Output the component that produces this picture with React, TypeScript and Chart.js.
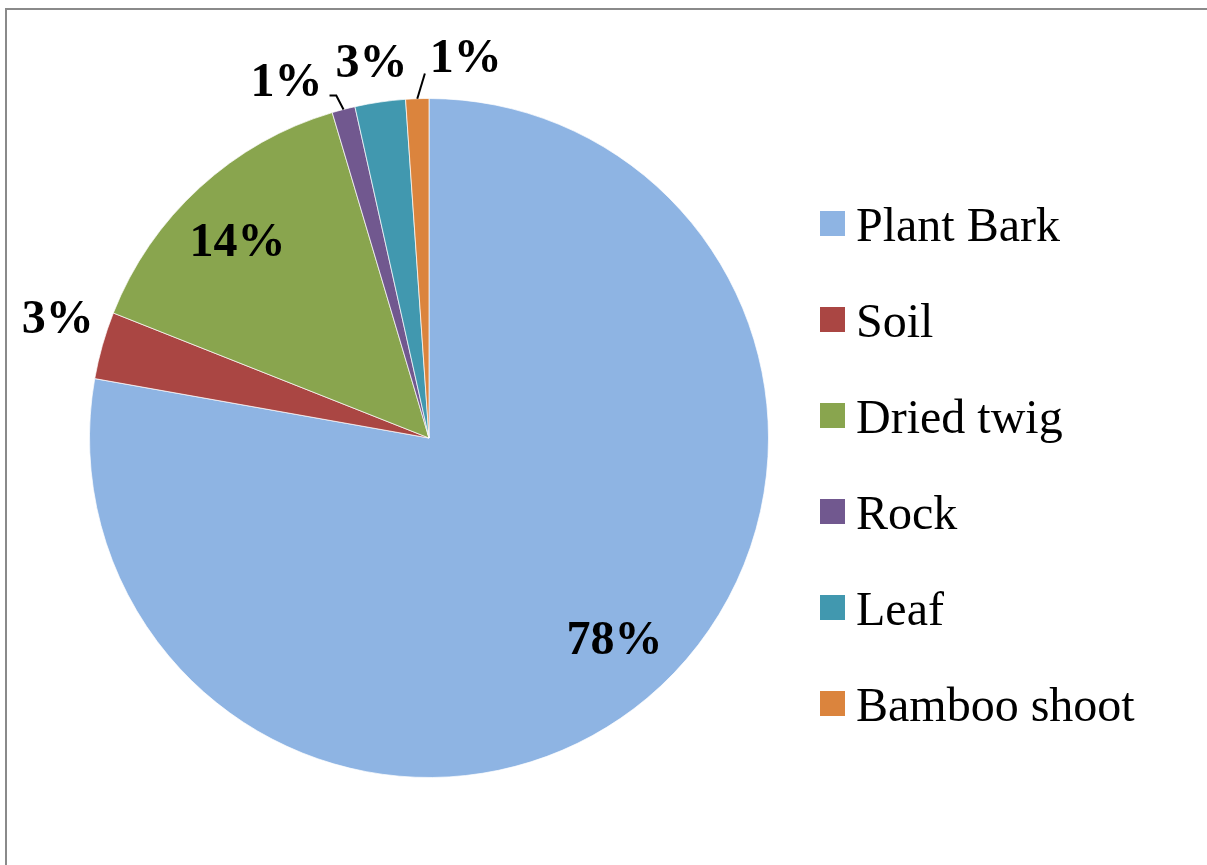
import React, { useEffect, useRef } from "react";
import { Chart, registerables } from "chart.js";

Chart.register(...registerables);

const categories = ["Plant Bark", "Soil", "Dried twig", "Rock", "Leaf", "Bamboo shoot"];
const shares = [77.8, 3.2, 14.4, 1.1, 2.4, 1.1];
const shownLabels = ["78%", "3%", "14%", "1%", "3%", "1%"];
const colors = ["#8EB4E3", "#AA4643", "#89A54E", "#71588F", "#4198AF", "#DB843D"];

// label placement relative to each slice's mid angle (deg shift, radius factor)
const labelPlacement = [
  { shift: -2.9, r: 0.803 },
  { shift: 2.2, r: 1.15 },
  { shift: -1.6, r: 0.811 },
  { shift: -7.1, r: 1.136 },
  { shift: -0.4, r: 1.122 },
  { shift: 7.5, r: 1.129 },
];

const labelFont = 'bold 48px "Liberation Serif", "Times New Roman", serif';
const legendFont = '48px "Liberation Serif", "Times New Roman", serif';

const framePlugin = {
  id: "frame",
  beforeDraw(chart: any) {
    const ctx = chart.ctx;
    ctx.save();
    ctx.fillStyle = "#ffffff";
    ctx.fillRect(0, 0, chart.width, chart.height);
    ctx.strokeStyle = "#8a8a8a";
    ctx.lineWidth = 2;
    ctx.strokeRect(6, 9, chart.width + 100, chart.height + 100);
    ctx.restore();
  },
};

const labelPlugin = {
  id: "sliceLabels",
  afterDatasetsDraw(chart: any) {
    const ctx = chart.ctx;
    const meta = chart.getDatasetMeta(0);
    ctx.save();
    ctx.font = labelFont;
    ctx.fillStyle = "#000";
    ctx.textAlign = "center";
    ctx.textBaseline = "alphabetic";
    meta.data.forEach((arc: any, i: number) => {
      const { x, y, startAngle, endAngle, outerRadius } = arc.getProps(
        ["x", "y", "startAngle", "endAngle", "outerRadius"],
        true
      );
      const mid = (startAngle + endAngle) / 2;
      const p = labelPlacement[i];
      const a = mid + (p.shift * Math.PI) / 180;
      const cx = x + Math.cos(a) * outerRadius * p.r;
      const cy = y + Math.sin(a) * outerRadius * p.r;
      const text = shownLabels[i];
      const base = cy + 16;
      ctx.fillText(text, cx, base);
      const w = ctx.measureText(text).width;
      // leader lines for the two thin slices
      if (i === 3) {
        ctx.beginPath();
        ctx.strokeStyle = "#000";
        ctx.lineWidth = 2;
        const ex = x + Math.cos(mid) * outerRadius;
        const ey = y + Math.sin(mid) * outerRadius;
        const kx = x + Math.cos(mid - 0.01) * outerRadius * 1.045;
        const ky = y + Math.sin(mid - 0.01) * outerRadius * 1.045;
        ctx.moveTo(ex, ey);
        ctx.lineTo(kx, ky);
        ctx.lineTo(cx + w / 2 + 7, ky);
        ctx.stroke();
      }
      if (i === 5) {
        ctx.beginPath();
        ctx.strokeStyle = "#000";
        ctx.lineWidth = 2;
        const ex = x + Math.cos(mid) * outerRadius;
        const ey = y + Math.sin(mid) * outerRadius;
        ctx.moveTo(ex, ey);
        ctx.lineTo(cx - w / 2 - 5, base + 1);
        ctx.stroke();
      }
    });
    ctx.restore();
  },
};

const legendPlugin = {
  id: "sideLegend",
  afterDraw(chart: any) {
    const ctx = chart.ctx;
    const labels = chart.data.labels as string[];
    const bg = chart.data.datasets[0].backgroundColor as string[];
    const left = chart.chartArea.right + 51;
    const firstBase = 241;
    const step = 96;
    ctx.save();
    ctx.font = legendFont;
    ctx.textAlign = "left";
    ctx.textBaseline = "alphabetic";
    labels.forEach((lab, i) => {
      const base = firstBase + step * i;
      ctx.fillStyle = bg[i];
      ctx.fillRect(left, base - 30, 25, 25);
      ctx.fillStyle = "#000";
      ctx.fillText(lab, left + 36, base);
    });
    ctx.restore();
  },
};

export default function App() {
  const ref = useRef<HTMLCanvasElement | null>(null);
  useEffect(() => {
    if (!ref.current) return;
    const chart = new Chart(ref.current, {
      type: "pie",
      data: {
        labels: categories,
        datasets: [
          {
            data: shares,
            backgroundColor: colors,
            borderColor: "rgba(255,255,255,0.7)",
            borderWidth: 1,
          },
        ],
      },
      options: {
        responsive: false,
        animation: false,
        devicePixelRatio: 1,
        layout: { padding: { left: 89, top: 98, right: 438, bottom: 87 } },
        plugins: {
          legend: { display: false },
          tooltip: { enabled: false },
        },
      },
      plugins: [framePlugin, labelPlugin, legendPlugin],
    });
    return () => chart.destroy();
  }, []);
  return (
    <div style={{ position: "absolute", left: 0, top: 0, width: 1207, height: 865 }}>
      <canvas ref={ref} width={1207} height={865} style={{ display: "block" }} />
    </div>
  );
}
